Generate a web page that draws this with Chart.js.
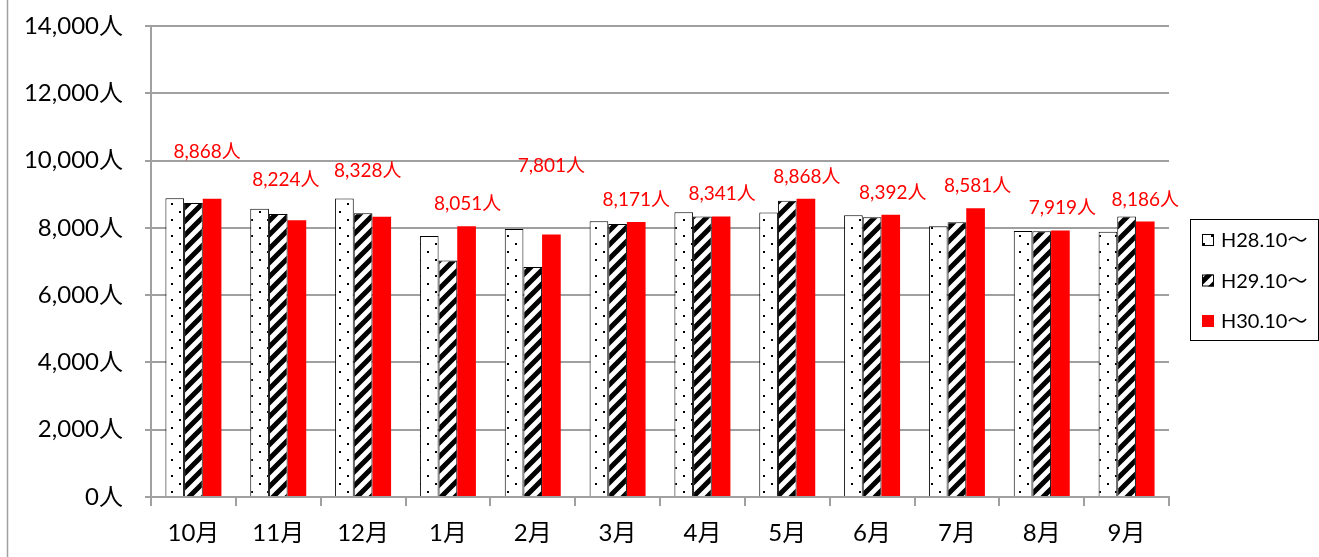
<!DOCTYPE html>
<html>
<head>
<meta charset="utf-8">
<script src="https://cdn.jsdelivr.net/npm/chart.js@4/dist/chart.umd.min.js"></script>
<style>
  html, body { margin: 0; padding: 0; background: #ffffff; }
  #wrap { width: 1319px; height: 557px; position: relative; }
</style>
</head>
<body>
<div id="wrap"><canvas id="c" width="1319" height="557"></canvas></div>
<script>
// ---- data ----
const categories = ['10月', '11月', '12月', '1月', '2月', '3月', '4月', '5月', '6月', '7月', '8月', '9月'];
const seriesNames = ['H28.10～', 'H29.10～', 'H30.10～'];
const h28 = [8880, 8571, 8869, 7760, 7968, 8197, 8465, 8453, 8375, 8049, 7905, 7888];
const h29 = [8740, 8414, 8435, 7027, 6840, 8117, 8334, 8809, 8316, 8168, 7900, 8334];
const h30 = [8868, 8224, 8328, 8051, 7801, 8171, 8341, 8868, 8392, 8581, 7919, 8186];
const yTicks = [0, 2000, 4000, 6000, 8000, 10000, 12000, 14000];
const unit = '人';

// manual placement of the value labels (pixel offsets from the bar top)
const labelDX = [-5, -11, -14, 1, 0, 0, 1, 1, 2, 2, 2, 0];
const labelDY = [-47, -40, -46, -22, -69, -22, -23, -22, -22, -22, -23, -22];

const FONT = "Lato, 'Noto Sans CJK JP', sans-serif";
const GRID = '#a0a0a0';

function dotPattern() {
  const c = document.createElement('canvas');
  c.width = 16; c.height = 16;
  const g = c.getContext('2d');
  g.fillStyle = '#ffffff'; g.fillRect(0, 0, 16, 16);
  g.fillStyle = '#000000';
  g.fillRect(3, 3, 2, 2);
  g.fillRect(11, 11, 2, 2);
  return g.createPattern(c, 'repeat');
}
function stripePattern() {
  const s = 14;
  const c = document.createElement('canvas');
  c.width = s; c.height = s;
  const g = c.getContext('2d');
  g.fillStyle = '#ffffff'; g.fillRect(0, 0, s, s);
  g.strokeStyle = '#000000'; g.lineWidth = 5;
  g.beginPath();
  g.moveTo(-2, s + 2); g.lineTo(s + 2, -2);
  g.moveTo(-2, 2); g.lineTo(2, -2);
  g.moveTo(s - 2, s + 2); g.lineTo(s + 2, s - 2);
  g.stroke();
  return g.createPattern(c, 'repeat');
}
const fills = [dotPattern(), stripePattern(), '#ff0000'];
const borders = ['#000000', '#000000', '#ff0000'];
const borderWidths = [1, 1, 0];

const valueLabels = {
  id: 'valueLabels',
  afterDatasetsDraw(chart) {
    const ctx = chart.ctx;
    const meta = chart.getDatasetMeta(2);
    const ds = chart.data.datasets[2];
    ctx.save();
    ctx.fillStyle = '#ff0000';
    ctx.font = '19px ' + FONT;
    ctx.textAlign = 'center';
    ctx.textBaseline = 'middle';
    meta.data.forEach((bar, i) => {
      const t = ds.data[i].toLocaleString('en-US') + unit;
      ctx.fillText(t, bar.x + labelDX[i], bar.y + labelDY[i]);
    });
    ctx.restore();
  }
};

const frameAndLegend = {
  id: 'frameAndLegend',
  afterDraw(chart) {
    const ctx = chart.ctx;
    ctx.save();
    // outer left frame line
    ctx.strokeStyle = GRID; ctx.lineWidth = 1.5;
    ctx.beginPath(); ctx.moveTo(7.5, 0); ctx.lineTo(7.5, 557); ctx.stroke();
    // legend box
    const bx = 1190.5, by = 219.5, bw = 128, bh = 121;
    ctx.fillStyle = '#ffffff';
    ctx.fillRect(bx, by, bw, bh);
    ctx.strokeStyle = '#000000'; ctx.lineWidth = 1;
    ctx.strokeRect(bx, by, bw, bh);
    const rows = [240, 280.5, 321];
    ctx.font = '20px ' + FONT;
    ctx.textBaseline = 'middle';
    ctx.textAlign = 'left';
    chart.data.datasets.forEach((ds, i) => {
      const cy = rows[i];
      ctx.fillStyle = ds.backgroundColor;
      ctx.fillRect(1202, cy - 6, 12, 12);
      if (ds.borderWidth > 0) {
        ctx.strokeStyle = '#000000'; ctx.lineWidth = 1;
        ctx.strokeRect(1202.5, cy - 5.5, 11, 11);
      }
      ctx.fillStyle = '#000000';
      ctx.fillText(ds.label, 1221, cy + 1);
    });
    ctx.restore();
  }
};

const datasets = [h28, h29, h30].map((vals, i) => ({
  label: seriesNames[i],
  data: vals,
  backgroundColor: fills[i],
  borderColor: borders[i],
  borderWidth: borderWidths[i],
  borderSkipped: 'bottom',
  barPercentage: 1.0,
  categoryPercentage: 0.66
}));

new Chart(document.getElementById('c'), {
  type: 'bar',
  data: { labels: categories, datasets },
  plugins: [valueLabels, frameAndLegend],
  options: {
    responsive: false,
    animation: false,
    devicePixelRatio: 1,
    layout: { padding: { left: 0, right: 150, top: 26, bottom: 0 } },
    plugins: { legend: { display: false }, tooltip: { enabled: false } },
    scales: {
      x: {
        grid: { display: true, drawOnChartArea: false, drawTicks: true, tickLength: 9, color: GRID, lineWidth: 2, offset: true },
        border: { display: true, color: GRID, width: 2 },
        ticks: { color: '#000000', font: { family: FONT, size: 24 }, padding: 13, maxRotation: 0 },
        afterFit(s) { s.height = 60; }
      },
      y: {
        min: 0, max: 14000,
        afterBuildTicks(s) { s.ticks = yTicks.map(v => ({ value: v })); },
        ticks: {
          color: '#000000', font: { family: FONT, size: 24 }, padding: 22,
          callback: v => v.toLocaleString('en-US') + unit
        },
        grid: { color: GRID, lineWidth: 2, tickLength: 6, drawTicks: true },
        border: { display: true, color: GRID, width: 2 },
        afterFit(s) { s.width = 151; s.paddingTop = 0; s.paddingBottom = 0; }
      }
    }
  }
});
</script>
</body>
</html>
